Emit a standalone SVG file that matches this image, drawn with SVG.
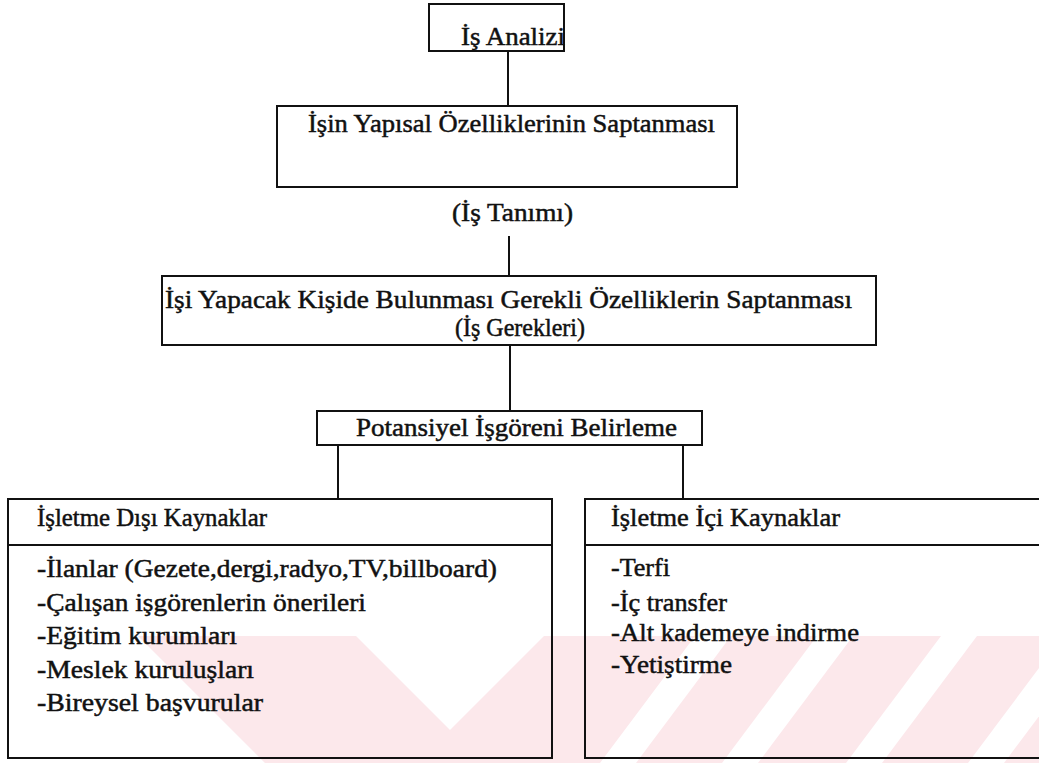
<svg xmlns="http://www.w3.org/2000/svg" width="1039" height="763" viewBox="0 0 1039 763">
  <defs>
    <style>
      .box { fill: none; stroke: #111; stroke-width: 2; }
      .wire { fill: none; stroke: #111; stroke-width: 2; }
      .t { font-family: "Liberation Serif", Tinos, "Times New Roman", Times, serif; font-size: 26px; fill: #111; stroke: #111; stroke-width: 0.5px; }
      .mark { fill: #fce8eb; }
    </style>
  </defs>
  <rect width="1039" height="763" fill="#fff"/>

  <!-- pale background mark in the lower band: a chevron followed by slanted stripes -->
  <g id="backmark">
    <polygon class="mark" points="138,636 356,636 450,730 544,636 695,636 600,763 265,763"/>
    <polygon class="mark" points="731,636 817,636 722,763 636,763"/>
    <polygon class="mark" points="853,636 941,636 846,763 758,763"/>
    <polygon class="mark" points="977,636 1063,636 968,763 882,763"/>
    <polygon class="mark" points="1099,636 1185,636 1090,763 1004,763"/>
  </g>

  <g id="connectors">
    <line class="wire" x1="508" y1="51" x2="508" y2="106"/>
    <line class="wire" x1="509" y1="236" x2="509" y2="276"/>
    <line class="wire" x1="510" y1="345" x2="510" y2="411"/>
    <line class="wire" x1="338" y1="445" x2="338" y2="499"/>
    <line class="wire" x1="683" y1="445" x2="683" y2="499"/>
  </g>

  <g id="is-analizi">
    <rect class="box" x="429" y="4" width="135" height="47"/>
    <text class="t" x="461" y="45" textLength="104" lengthAdjust="spacingAndGlyphs">İş Analizi</text>
  </g>

  <g id="yapisal-ozellikler">
    <rect class="box" x="277" y="106" width="460" height="81"/>
    <text class="t" x="308" y="132" textLength="407" lengthAdjust="spacingAndGlyphs">İşin Yapısal Özelliklerinin Saptanması</text>
  </g>

  <g id="is-tanimi">
    <text class="t" x="452" y="221" textLength="121" lengthAdjust="spacingAndGlyphs">(İş Tanımı)</text>
  </g>

  <g id="is-gerekleri">
    <rect class="box" x="162" y="276" width="714" height="69"/>
    <text class="t" x="165" y="308" textLength="687" lengthAdjust="spacingAndGlyphs">İşi Yapacak Kişide Bulunması Gerekli Özelliklerin Saptanması</text>
    <text class="t" x="455" y="336" textLength="130" lengthAdjust="spacingAndGlyphs">(İş Gerekleri)</text>
  </g>

  <g id="potansiyel">
    <rect class="box" x="317" y="411" width="385" height="34"/>
    <text class="t" x="356" y="436" textLength="321" lengthAdjust="spacingAndGlyphs">Potansiyel İşgöreni Belirleme</text>
  </g>

  <g id="disi-kaynaklar">
    <rect class="box" x="8" y="499" width="544" height="259"/>
    <line class="box" x1="8" y1="545" x2="552" y2="545"/>
    <text class="t" x="37" y="526" textLength="230" lengthAdjust="spacingAndGlyphs">İşletme Dışı Kaynaklar</text>
    <text class="t" x="37" y="577" textLength="460" lengthAdjust="spacingAndGlyphs">-İlanlar (Gezete,dergi,radyo,TV,billboard)</text>
    <text class="t" x="37" y="611" textLength="329" lengthAdjust="spacingAndGlyphs">-Çalışan işgörenlerin önerileri</text>
    <text class="t" x="37" y="644" textLength="200" lengthAdjust="spacingAndGlyphs">-Eğitim kurumları</text>
    <text class="t" x="37" y="678" textLength="217" lengthAdjust="spacingAndGlyphs">-Meslek kuruluşları</text>
    <text class="t" x="37" y="711" textLength="226" lengthAdjust="spacingAndGlyphs">-Bireysel başvurular</text>
  </g>

  <g id="ici-kaynaklar">
    <path class="box" d="M1045,499 H585 V758 H1045"/>
    <line class="box" x1="585" y1="545" x2="1039" y2="545"/>
    <text class="t" x="611" y="526" textLength="229" lengthAdjust="spacingAndGlyphs">İşletme İçi Kaynaklar</text>
    <text class="t" x="611" y="576" textLength="59" lengthAdjust="spacingAndGlyphs">-Terfi</text>
    <text class="t" x="611" y="611" textLength="116" lengthAdjust="spacingAndGlyphs">-İç transfer</text>
    <text class="t" x="611" y="641" textLength="248" lengthAdjust="spacingAndGlyphs">-Alt kademeye indirme</text>
    <text class="t" x="611" y="673" textLength="121" lengthAdjust="spacingAndGlyphs">-Yetiştirme</text>
  </g>
</svg>
